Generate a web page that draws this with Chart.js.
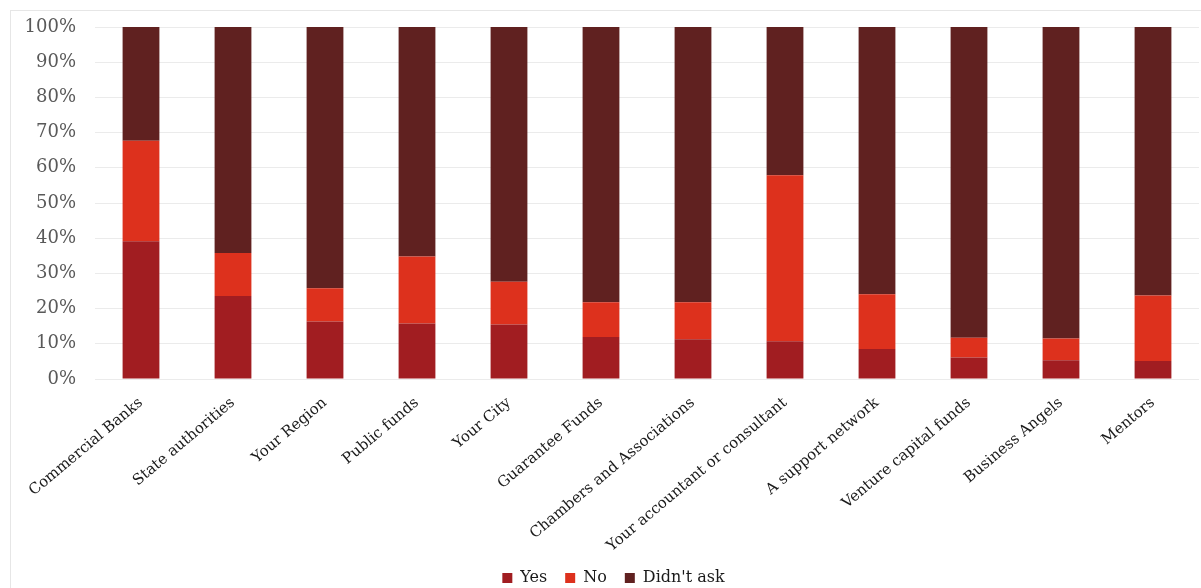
<!DOCTYPE html>
<html>
<head>
<meta charset="utf-8">
<script src="https://cdn.jsdelivr.net/npm/chart.js@4"></script>
<style>
  html, body { margin: 0; padding: 0; background: #fff; }
  #wrap { position: relative; width: 1201px; height: 588px; overflow: hidden; }
  #frame { position: absolute; left: 10px; top: 10px; width: 1200px; height: 600px; border: 1px solid #e6e6e6; box-sizing: border-box; }
  canvas { position: absolute; left: 0; top: 0; }
</style>
</head>
<body>
<div id="wrap">
  <div id="frame"></div>
  <canvas id="myChart" width="1201" height="588"></canvas>
</div>
<script>
// categorias e valores (em %)
const categories = [
  'Commercial Banks', 'State authorities', 'Your Region', 'Public funds', 'Your City',
  'Guarantee Funds', 'Chambers and Associations', 'Your accountant or consultant',
  'A support network', 'Venture capital funds', 'Business Angels', 'Mentors'
];
const yesValues = [39.1, 23.6, 16.3, 15.8, 15.5, 11.9, 11.3, 10.7, 8.5, 6.1, 5.3, 5.1];
const noValues = [28.6, 12.2, 9.5, 19.0, 12.1, 9.9, 10.5, 47.2, 15.6, 5.6, 6.2, 18.6];
const didntAskValues = yesValues.map((y, i) => +(100 - y - noValues[i]).toFixed(1));
const tickValues = [0, 10, 20, 30, 40, 50, 60, 70, 80, 90, 100];

const serif = "Georgia, 'DejaVu Serif', serif";

const ctx = document.getElementById('myChart').getContext('2d');

const myChart = new Chart(ctx, {
    type: 'bar',
    data: {
        labels: categories,
        datasets: [
            { label: 'Yes', data: yesValues, backgroundColor: '#a11d21' },
            { label: 'No', data: noValues, backgroundColor: '#dd311d' },
            { label: "Didn't ask", data: didntAskValues, backgroundColor: '#602120' }
        ]
    },
    options: {
        responsive: false,
        animation: false,
        layout: { padding: { left: 28, top: 27, right: 2, bottom: -8 } },
        datasets: {
            bar: { barPercentage: 0.4, categoryPercentage: 1.0, borderWidth: 0 }
        },
        scales: {
            x: {
                stacked: true,
                grid: { display: false },
                border: { display: false },
                ticks: {
                    color: '#1a1a1a',
                    font: { family: serif, size: 15 },
                    minRotation: 40,
                    maxRotation: 40,
                    autoSkip: false,
                    padding: 7
                },
                afterFit: (scale) => {
                    scale.height = 173;
                    // deixa os rótulos longos passarem por baixo da legenda
                    scale._computeLabelArea = () => undefined;
                }
            },
            y: {
                stacked: true,
                min: 0,
                max: 100,
                afterBuildTicks: (scale) => { scale.ticks = tickValues.map(v => ({ value: v })); },
                grid: { color: '#ebebeb', drawTicks: true, tickLength: 11, tickColor: 'rgba(0,0,0,0)' },
                border: { display: false },
                ticks: {
                    color: '#595959',
                    font: { family: serif, size: 18 },
                    padding: 8,
                    callback: (v) => v + '%'
                },
                afterFit: (scale) => {
                    scale.width = 67;
                    scale._computeLabelArea = () => undefined;
                }
            }
        },
        plugins: {
            legend: {
                position: 'bottom',
                labels: {
                    color: '#1a1a1a',
                    font: { family: serif, size: 16 },
                    boxWidth: 10,
                    boxHeight: 10,
                    padding: 18
                }
            },
            tooltip: { enabled: false }
        }
    }
});
</script>
</body>
</html>
